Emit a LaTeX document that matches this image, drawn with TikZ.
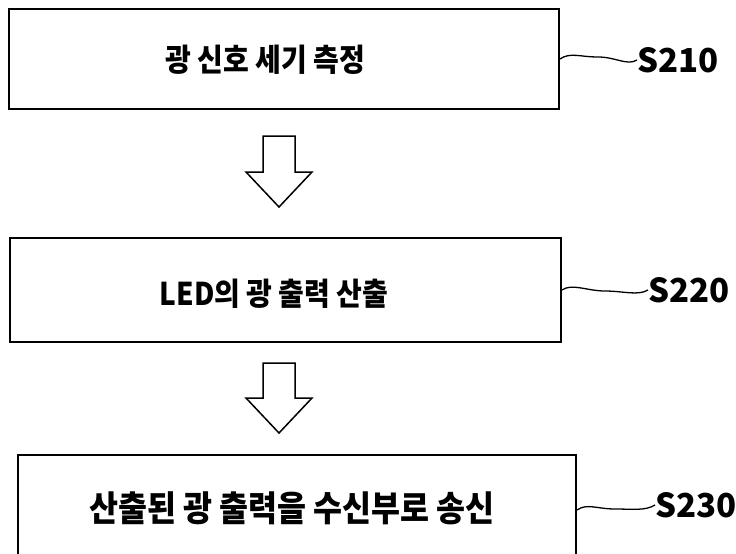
\documentclass[tikz,border=0pt]{standalone}
\usepackage{fontspec}
\setmainfont{Noto Sans CJK KR}
\newcommand{\vstretch}[1]{\scalebox{1}[1.12]{#1}}
\begin{document}
\begin{tikzpicture}[x=1pt,y=-1pt,
  stepbox/.style={draw, line width=2pt, inner sep=0pt, anchor=north west},
  txt/.style={font=\fontsize{28}{30}\selectfont\bfseries, inner sep=0pt},
  bigtxt/.style={font=\fontsize{31.5}{34}\selectfont\bfseries, inner sep=0pt},
  lbl/.style={font=\fontsize{33}{36}\selectfont\bfseries, inner sep=0pt, anchor=west},
  blockarrow/.style={draw, line width=1.5pt, line join=miter, fill=white},
  leader/.style={draw, line width=1.3pt}]
\useasboundingbox (0,0) rectangle (736,554);
% boxes
\node[stepbox, minimum width=550pt, minimum height=100pt] (b1) at (8,8) {};
\node[stepbox, minimum width=551pt, minimum height=104pt] (b2) at (9,237) {};
\node[stepbox, minimum width=558pt, minimum height=110pt] (b3) at (17,454) {};
% texts
\node[txt] (t1) at (265,60) {\vstretch{광 신호 세기 측정}};
\node[txt] (t2) at (274,294) {\vstretch{LED의 광 출력 산출}};
\node[bigtxt] (t3) at (292,508) {\vstretch{산출된 광 출력을 수신부로 송신}};
% labels
\node[lbl] (l1) at (637,60) {S210};
\node[lbl] (l2) at (648,290) {S220};
\node[lbl] (l3) at (655,505) {S230};
% leaders
\coordinate (m1) at (598,57);
\coordinate (m2) at (605,291);
\coordinate (m3) at (615,509);
\draw[leader] (b1.east) .. controls +(10,-7) and +(-18,0) .. (m1) .. controls +(18,0) and +(-10,6) .. (l1.west);
\draw[leader] (b2.east) .. controls +(10,-7) and +(-18,0) .. (m2) .. controls +(18,0) and +(-10,6) .. (l2.west);
\draw[leader] (b3.east) .. controls +(10,-7) and +(-18,0) .. (m3) .. controls +(18,0) and +(-10,6) .. (l3.west);
% block arrows
\coordinate (a1) at (279,136);
\coordinate (a2) at (279,363);
\draw[blockarrow] (a1) ++(-16,0) -- ++(32,0) -- ++(0,36) -- ++(17,0) -- ++(-33,35) -- ++(-33,-35) -- ++(17,0) -- cycle;
\draw[blockarrow] (a2) ++(-16,0) -- ++(32,0) -- ++(0,35) -- ++(17,0) -- ++(-33,35) -- ++(-33,-35) -- ++(17,0) -- cycle;
\end{tikzpicture}
\end{document}
